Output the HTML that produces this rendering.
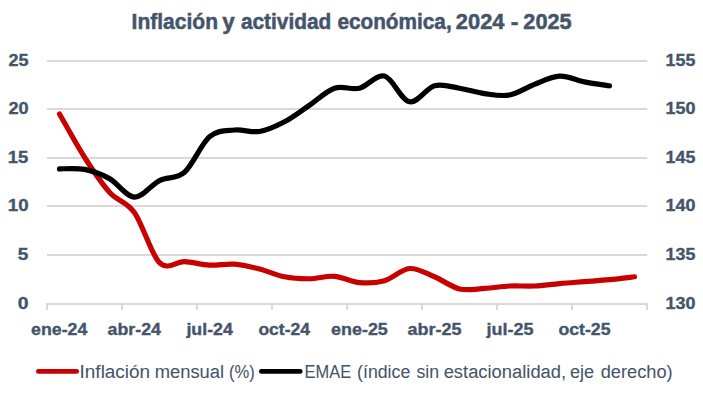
<!DOCTYPE html>
<html><head><meta charset="utf-8"><style>
html,body{margin:0;padding:0;background:#fff;width:703px;height:394px;overflow:hidden}
svg{display:block}
text{font-family:"Liberation Sans",sans-serif;fill:#44546a}
.ax{font-weight:bold;font-size:16.8px;stroke:#44546a;stroke-width:0.35px}
.ti{font-weight:bold;font-size:21.2px;stroke:#44546a;stroke-width:0.5px}
.lg{font-size:17.6px;stroke:#44546a;stroke-width:0.05px}
</style></head><body>
<svg width="703" height="394" viewBox="0 0 703 394">
<line x1="47" y1="61" x2="647.3" y2="61" stroke="#d9d9d9" stroke-width="2"/>
<line x1="47" y1="109" x2="647.3" y2="109" stroke="#d9d9d9" stroke-width="2"/>
<line x1="47" y1="158" x2="647.3" y2="158" stroke="#d9d9d9" stroke-width="2"/>
<line x1="47" y1="206" x2="647.3" y2="206" stroke="#d9d9d9" stroke-width="2"/>
<line x1="47" y1="255" x2="647.3" y2="255" stroke="#d9d9d9" stroke-width="2"/>
<line x1="46" y1="304" x2="648" y2="304" stroke="#d9d9d9" stroke-width="2"/>
<line x1="47" y1="303" x2="47" y2="310" stroke="#d9d9d9" stroke-width="2"/>
<line x1="122" y1="303" x2="122" y2="310" stroke="#d9d9d9" stroke-width="2"/>
<line x1="197" y1="303" x2="197" y2="310" stroke="#d9d9d9" stroke-width="2"/>
<line x1="272" y1="303" x2="272" y2="310" stroke="#d9d9d9" stroke-width="2"/>
<line x1="347" y1="303" x2="347" y2="310" stroke="#d9d9d9" stroke-width="2"/>
<line x1="422" y1="303" x2="422" y2="310" stroke="#d9d9d9" stroke-width="2"/>
<line x1="497" y1="303" x2="497" y2="310" stroke="#d9d9d9" stroke-width="2"/>
<line x1="572" y1="303" x2="572" y2="310" stroke="#d9d9d9" stroke-width="2"/>
<line x1="647" y1="303" x2="647" y2="310" stroke="#d9d9d9" stroke-width="2"/>
<text x="17.87" y="308.90" class="ax" textLength="10.78" lengthAdjust="spacingAndGlyphs">0</text>
<text x="17.88" y="259.90" class="ax" textLength="10.57" lengthAdjust="spacingAndGlyphs">5</text>
<text x="7.83" y="210.90" class="ax" textLength="20.80" lengthAdjust="spacingAndGlyphs">10</text>
<text x="7.84" y="162.90" class="ax" textLength="20.60" lengthAdjust="spacingAndGlyphs">15</text>
<text x="8.41" y="113.90" class="ax" textLength="20.20" lengthAdjust="spacingAndGlyphs">20</text>
<text x="8.41" y="65.90" class="ax" textLength="20.01" lengthAdjust="spacingAndGlyphs">25</text>
<text x="665.62" y="308.90" class="ax" textLength="29.92" lengthAdjust="spacingAndGlyphs">130</text>
<text x="665.63" y="259.90" class="ax" textLength="29.74" lengthAdjust="spacingAndGlyphs">135</text>
<text x="665.62" y="210.90" class="ax" textLength="29.92" lengthAdjust="spacingAndGlyphs">140</text>
<text x="665.63" y="162.90" class="ax" textLength="29.74" lengthAdjust="spacingAndGlyphs">145</text>
<text x="665.62" y="113.90" class="ax" textLength="29.92" lengthAdjust="spacingAndGlyphs">150</text>
<text x="665.63" y="65.90" class="ax" textLength="29.74" lengthAdjust="spacingAndGlyphs">155</text>
<text x="31.12" y="334.50" class="ax" textLength="56.16" lengthAdjust="spacingAndGlyphs">ene-24</text>
<text x="107.54" y="334.50" class="ax" textLength="53.49" lengthAdjust="spacingAndGlyphs">abr-24</text>
<text x="186.41" y="334.50" class="ax" textLength="46.48" lengthAdjust="spacingAndGlyphs">jul-24</text>
<text x="258.42" y="334.50" class="ax" textLength="51.56" lengthAdjust="spacingAndGlyphs">oct-24</text>
<text x="331.11" y="334.50" class="ax" textLength="56.70" lengthAdjust="spacingAndGlyphs">ene-25</text>
<text x="407.54" y="334.50" class="ax" textLength="54.03" lengthAdjust="spacingAndGlyphs">abr-25</text>
<text x="486.41" y="334.50" class="ax" textLength="47.01" lengthAdjust="spacingAndGlyphs">jul-25</text>
<text x="558.42" y="334.50" class="ax" textLength="52.09" lengthAdjust="spacingAndGlyphs">oct-25</text>
<path d="M59.50 113.97 C63.67 121.18 76.17 144.19 84.50 157.23 C92.83 170.27 101.17 182.99 109.50 192.22 C117.83 201.45 126.17 200.89 134.50 212.63 C142.83 224.38 151.17 254.51 159.50 262.69 C167.83 270.87 176.17 261.31 184.50 261.72 C192.83 262.12 201.17 264.72 209.50 265.12 C217.83 265.52 226.17 263.50 234.50 264.15 C242.83 264.80 251.17 266.90 259.50 269.01 C267.83 271.11 276.17 275.16 284.50 276.78 C292.83 278.40 301.17 278.81 309.50 278.73 C317.83 278.65 326.17 275.65 334.50 276.30 C342.83 276.95 351.17 281.89 359.50 282.62 C367.83 283.34 376.17 283.02 384.50 280.67 C392.83 278.32 401.17 269.17 409.50 268.52 C417.83 267.87 426.17 273.38 434.50 276.78 C442.83 280.19 451.17 286.99 459.50 288.93 C467.83 290.88 476.17 288.93 484.50 288.45 C492.83 287.96 501.17 286.42 509.50 286.02 C517.83 285.61 526.17 286.42 534.50 286.02 C542.83 285.61 551.17 284.32 559.50 283.59 C567.83 282.86 576.17 282.29 584.50 281.64 C592.83 281.00 601.17 280.51 609.50 279.70 C617.83 278.89 630.33 277.27 634.50 276.78" fill="none" stroke="#c80000" stroke-width="5.2" stroke-linecap="round" stroke-linejoin="round"/>
<path d="M59.50 168.89 C63.67 168.97 76.17 167.76 84.50 169.38 C92.83 171.00 101.17 173.99 109.50 178.61 C117.83 183.23 126.17 196.76 134.50 197.08 C142.83 197.40 151.17 184.69 159.50 180.56 C167.83 176.43 176.17 179.58 184.50 172.29 C192.83 165.00 201.17 143.86 209.50 136.82 C217.83 129.77 226.17 130.90 234.50 130.01 C242.83 129.12 251.17 132.85 259.50 131.47 C267.83 130.09 276.17 126.12 284.50 121.75 C292.83 117.38 301.17 110.82 309.50 105.23 C317.83 99.64 326.17 91.05 334.50 88.22 C342.83 85.38 351.17 90.24 359.50 88.22 C367.83 86.19 376.17 73.80 384.50 76.07 C392.83 78.33 401.17 100.20 409.50 101.82 C417.83 103.44 426.17 88.05 434.50 85.79 C442.83 83.52 451.17 86.92 459.50 88.22 C467.83 89.51 476.17 92.43 484.50 93.56 C492.83 94.70 501.17 96.56 509.50 95.02 C517.83 93.48 526.17 87.49 534.50 84.33 C542.83 81.17 551.17 76.47 559.50 76.07 C567.83 75.66 576.17 80.28 584.50 81.90 C592.83 83.52 605.33 85.14 609.50 85.79" fill="none" stroke="#000" stroke-width="5.2" stroke-linecap="round" stroke-linejoin="round"/>
<text x="131.54" y="28.96" class="ti" textLength="86.54" lengthAdjust="spacingAndGlyphs">Inflación</text>
<text x="222.20" y="28.96" class="ti" textLength="12.51" lengthAdjust="spacingAndGlyphs">y</text>
<text x="240.88" y="28.96" class="ti" textLength="90.49" lengthAdjust="spacingAndGlyphs">actividad</text>
<text x="337.38" y="28.96" class="ti" textLength="114.33" lengthAdjust="spacingAndGlyphs">económica,</text>
<text x="455.84" y="28.96" class="ti" textLength="48.67" lengthAdjust="spacingAndGlyphs">2024</text>
<text x="510.71" y="28.96" class="ti" textLength="7.65" lengthAdjust="spacingAndGlyphs">-</text>
<text x="523.35" y="28.96" class="ti" textLength="48.32" lengthAdjust="spacingAndGlyphs">2025</text>
<line x1="38.4" y1="371.4" x2="76.7" y2="371.4" stroke="#c80000" stroke-width="4.8" stroke-linecap="round"/>
<line x1="261.4" y1="371.4" x2="300.2" y2="371.4" stroke="#000" stroke-width="4.8" stroke-linecap="round"/>
<text x="79.60" y="377.80" class="lg" textLength="70.47" lengthAdjust="spacingAndGlyphs">Inflación</text>
<text x="154.70" y="377.80" class="lg" textLength="69.44" lengthAdjust="spacingAndGlyphs">mensual</text>
<text x="228.91" y="377.80" class="lg" textLength="25.77" lengthAdjust="spacingAndGlyphs">(%)</text>
<text x="304.59" y="377.80" class="lg" textLength="46.52" lengthAdjust="spacingAndGlyphs">EMAE</text>
<text x="357.14" y="377.80" class="lg" textLength="53.10" lengthAdjust="spacingAndGlyphs">(índice</text>
<text x="416.45" y="377.80" class="lg" textLength="22.65" lengthAdjust="spacingAndGlyphs">sin</text>
<text x="443.67" y="377.80" class="lg" textLength="122.45" lengthAdjust="spacingAndGlyphs">estacionalidad,</text>
<text x="569.98" y="377.80" class="lg" textLength="24.18" lengthAdjust="spacingAndGlyphs">eje</text>
<text x="600.67" y="377.80" class="lg" textLength="72.00" lengthAdjust="spacingAndGlyphs">derecho)</text>
</svg>
</body></html>
